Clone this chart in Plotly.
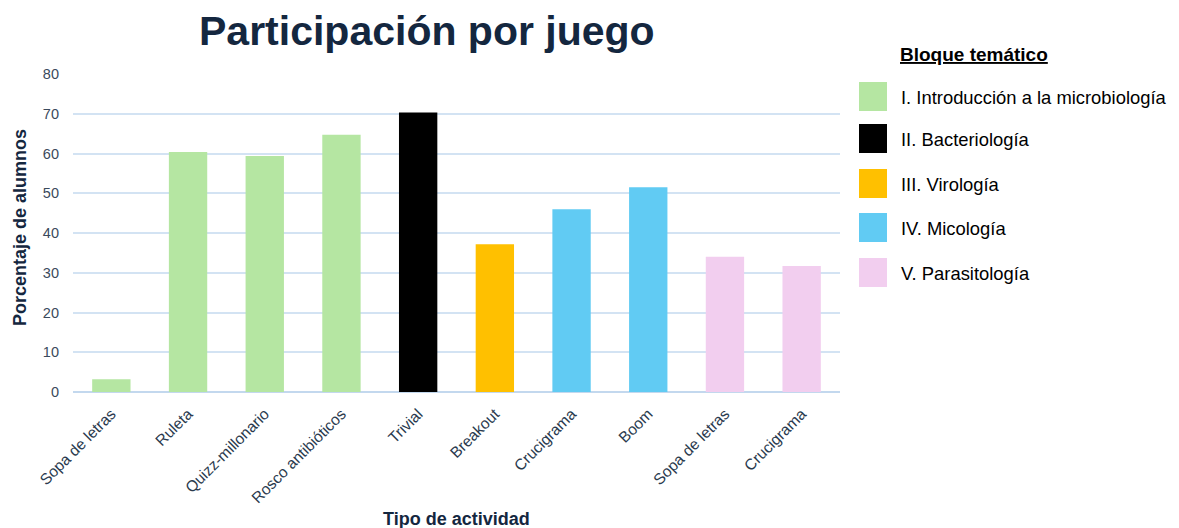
import plotly.graph_objects as go

categories = ["Sopa de letras", "Ruleta", "Quizz-millonario", "Rosco antibióticos", "Trivial",
              "Breakout", "Crucigrama", "Boom", "Sopa de letras", "Crucigrama"]
values = [3.2, 60.4, 59.4, 64.7, 70.3, 37.2, 46.0, 51.5, 34.0, 31.7]
block_of_bar = [0, 0, 0, 0, 1, 2, 3, 3, 4, 4]
blocks = ["I. Introducción a la microbiología", "II. Bacteriología", "III. Virología",
          "IV. Micología", "V. Parasitología"]
block_colors = ["#b5e6a2", "#000000", "#ffc000", "#61cbf3", "#f2ceef"]
y_ticks = [0, 10, 20, 30, 40, 50, 60, 70, 80]

FONT = "Liberation Sans, Arial, sans-serif"
NAVY = "#14273f"

xs = list(range(len(categories)))
fig = go.Figure()
fig.add_trace(go.Bar(
    x=xs, y=values,
    marker=dict(color=[block_colors[b] for b in block_of_bar], line=dict(width=0)),
    width=0.5, showlegend=False, hoverinfo="y",
))

fig.update_layout(
    width=1179, height=528,
    margin=dict(l=73, r=339, t=74, b=136),
    paper_bgcolor="white", plot_bgcolor="white",
    font=dict(family=FONT, color="#2e3d50"),
    xaxis=dict(
        tickmode="array", tickvals=xs, ticktext=categories, tickangle=-45,
        range=[-0.5, len(categories) - 0.5], showgrid=False, zeroline=False,
        showline=False, ticks="", tickfont=dict(size=15.5, color="#2a3a4e"),
        ticklabelstandoff=9,
    ),
    yaxis=dict(
        range=[0, 80], tickvals=y_ticks, showgrid=True, gridcolor="#d3e3f3", gridwidth=1.5,
        zeroline=True, zerolinecolor="#c3d8ee", zerolinewidth=1.5,
        tickfont=dict(size=14.5, color="#3a4a5c"), ticks="", ticklabelstandoff=13,
    ),
)

annotations = [
    dict(text="<b>Participación por juego</b>", x=427, y=31,
         font=dict(size=41, color=NAVY, family=FONT)),
    dict(text="<b>Porcentaje de alumnos</b>", x=20, y=228, textangle=-90,
         font=dict(size=18, color=NAVY, family=FONT)),
    dict(text="<b>Tipo de actividad</b>", x=456, y=519,
         font=dict(size=18, color=NAVY, family=FONT)),
    dict(text="<b><u>Bloque temático</u></b>", x=974, y=55,
         font=dict(size=19, color="#000000", family=FONT)),
]
# convert pixel coords to paper coords
W, H = 1179, 528
L, R, T, B = 73, 339, 74, 136
pw, ph = W - L - R, H - T - B
def px(x):
    return (x - L) / pw
def py(y):
    return (H - B - y) / ph
for a in annotations:
    a["x"] = px(a["x"]); a["y"] = py(a["y"])
    a["xref"] = "paper"; a["yref"] = "paper"
    a["xanchor"] = "center"; a["yanchor"] = "middle"; a["showarrow"] = False

shapes = []
legend_centers = [97, 139, 184, 228, 273]
for name, col, cy in zip(blocks, block_colors, legend_centers):
    shapes.append(dict(type="rect", xref="paper", yref="paper",
                       x0=px(859), x1=px(887), y0=py(cy - 15), y1=py(cy + 14),
                       fillcolor=col, line=dict(width=0)))
    annotations.append(dict(text=name, x=px(899), y=py(cy), xref="paper", yref="paper",
                            xanchor="left", yanchor="middle", showarrow=False,
                            font=dict(size=18.4, color="#000000", family=FONT)))

fig.update_layout(annotations=annotations, shapes=shapes)
fig.write_html("out.html")
